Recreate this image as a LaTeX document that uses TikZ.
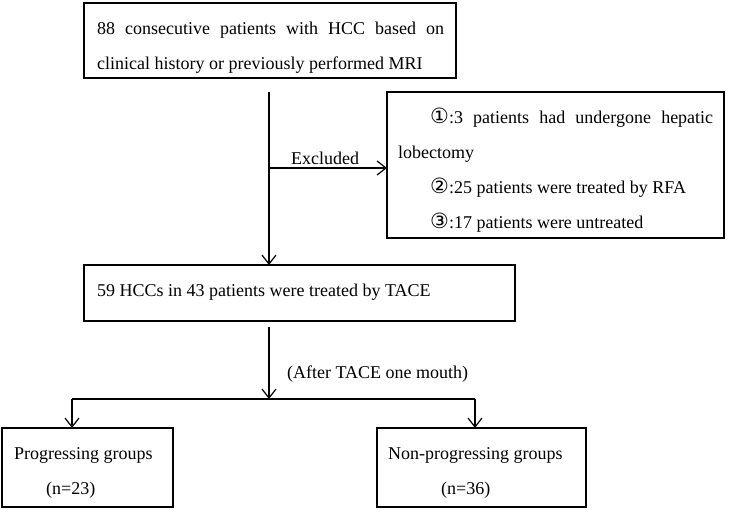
\documentclass[tikz,border=0pt]{standalone}
\usepackage{fontspec}
\setmainfont{Liberation Serif}
\newfontfamily\circf{DejaVu Sans}
\newcommand{\cnum}[1]{{\circf\fontsize{21}{22}\selectfont\char#1}}
\usetikzlibrary{arrows.meta}
\begin{document}
\begin{tikzpicture}[x=1pt,y=-1pt,
  box/.style={draw, line width=1.4pt, inner sep=0pt, outer sep=0pt},
  txt/.style={anchor=base west, inner sep=0pt, font=\fontsize{18}{22}\selectfont},
  lbl/.style={anchor=base, inner sep=0pt, font=\fontsize{18}{22}\selectfont},
  conn/.style={line width=1.2pt},
  arr/.style={line width=1.2pt, -{Straight Barb[length=9pt,width=14pt,line width=1.2pt]}}]
\useasboundingbox (0,0) rectangle (730,509);
% boxes
\node[box, minimum width=372pt, minimum height=75pt] (top) at (270,40.5) {};
\node[box, minimum width=337pt, minimum height=146pt] (excl) at (555.5,165) {};
\node[box, minimum width=431pt, minimum height=56pt] (mid) at (299.5,293) {};
\node[box, minimum width=171pt, minimum height=79pt] (prog) at (87.5,467.5) {};
\node[box, minimum width=209pt, minimum height=79pt] (nonprog) at (481.5,467.5) {};
% texts
\node[txt] (t1) at (97,34) {\makebox[347pt][s]{88 consecutive patients with HCC based on}};
\node[txt] (t2) at (97,69) {clinical history or previously performed MRI};
\node[txt] (e1) at (430,123) {\makebox[283pt][s]{\cnum{"2460}:3 patients had undergone hepatic}};
\node[txt] (e2) at (398,158) {lobectomy};
\node[txt] (e3) at (430,193) {\cnum{"2461}:25 patients were treated by RFA};
\node[txt] (e4) at (430,228) {\cnum{"2462}:17 patients were untreated};
\node[txt] (m1) at (97,296) {59 HCCs in 43 patients were treated by TACE};
\node[txt] (p1) at (14,459) {Progressing groups};
\node[txt] (p2) at (46,494) {(n=23)};
\node[txt] (n1) at (388,459) {Non-progressing groups};
\node[txt] (n2) at (441,494) {(n=36)};
% connectors
\coordinate (a0) at (269,92);
\coordinate (a1) at (269,168);
\coordinate (b0) at (269,327);
\coordinate (b1) at (269,399);
\coordinate (bl) at (72,399);
\coordinate (br) at (475,399);
\draw[arr] (a0) -- (a0 |- mid.north);
\draw[arr] (a1) -- (a1 -| excl.west);
\node[lbl] (exl) at (325,164) {Excluded};
\draw[arr] (b0) -- (b1);
\node[txt] (after) at (287,378) {(After TACE one mouth)};
\draw[conn] (bl) -- (br);
\draw[arr] (bl) -- (bl |- prog.north);
\draw[arr] (br) -- (br |- nonprog.north);
\end{tikzpicture}
\end{document}
